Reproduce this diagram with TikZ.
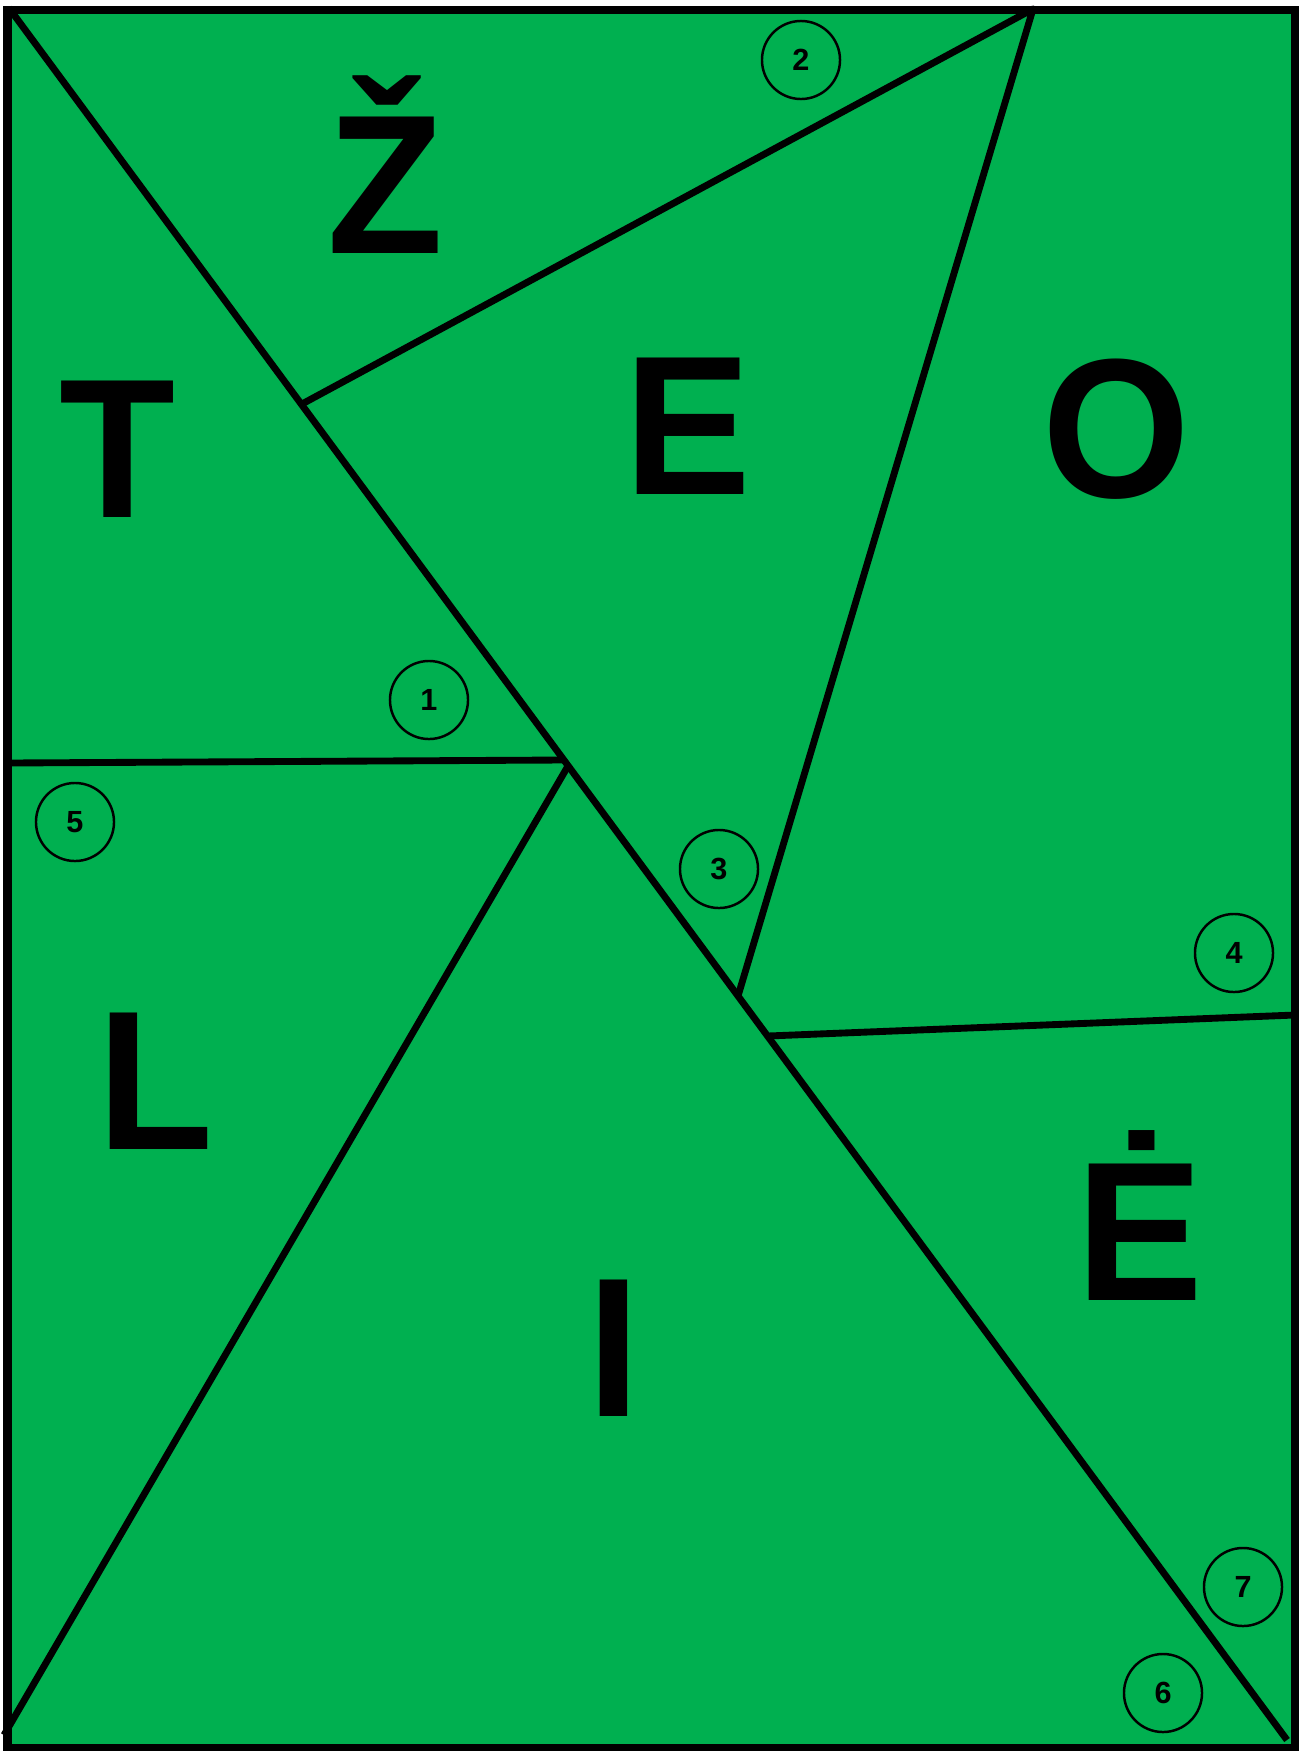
\documentclass[tikz,border=0pt]{standalone}
\usepackage{fontspec}
\setmainfont{Liberation Sans}
\definecolor{signgreen}{HTML}{00B050}
\newcommand{\tall}[1]{\scalebox{1}[1.045]{#1}}

\begin{document}
\begin{tikzpicture}[x=0.01cm, y=-0.01cm,
    cutline/.style={line width=1.95pt, line join=round},
    tag/.style={draw, circle, line width=0.7pt, minimum size=0.78cm, inner sep=0pt,
                font=\fontsize{8.7}{8.7}\selectfont\bfseries},
    glyph/.style={anchor=base, inner sep=0pt,
                  font=\fontsize{54}{54}\selectfont\bfseries}]
        % --- Page ---
        \useasboundingbox (0,0) rectangle (1301,1751);
        % --- Board ---
        \fill[signgreen] (7.5,10) rectangle (1295,1748);
        \draw[line width=2.4pt] (7.5,10) rectangle (1295,1748);
        % --- Corners and junctions ---
        \coordinate (tl) at (9,8);
        \coordinate (br) at (1287,1740);
        \coordinate (top) at (1033,9);
        \coordinate (bl) at (4,1735);
        \coordinate (ja) at (302,404);
        \coordinate (jb) at (563,760);
        \coordinate (jc) at (568,766);
        \coordinate (jd) at (738,996);
        \coordinate (je) at (768,1036);
        \coordinate (lm) at (8,763);
        \coordinate (rm) at (1295,1015);
        % --- Cuts ---
        \draw[cutline] (tl) -- (br);
        \draw[cutline] (ja) -- (top) -- (jd);
        \draw[cutline] (lm) -- (jb);
        \draw[cutline] (jc) -- (bl);
        \draw[cutline] (je) -- (rm);
        % --- Letters ---
        \node[glyph] (zh) at (385,253) {\tall{Ž}};
        \node[glyph] (t) at (117,517) {\tall{T}};
        \node[glyph] (e) at (688,494) {\tall{E}};
        \node[glyph] (o) at (1116,497) {\tall{O}};
        \node[glyph] (l) at (155,1149) {\tall{L}};
        \node[glyph] (i) at (614,1416) {\tall{I}};
        \node[glyph] (edot) at (1140,1300) {\tall{Ė}};
        % --- Piece numbers ---
        \node[tag] (n1) at (429,700) {1};
        \node[tag] (n2) at (801,60) {2};
        \node[tag] (n3) at (719,869) {3};
        \node[tag] (n4) at (1234,953) {4};
        \node[tag] (n5) at (75,822) {5};
        \node[tag] (n6) at (1163,1693) {6};
        \node[tag] (n7) at (1243,1587) {7};
\end{tikzpicture}
\end{document}
